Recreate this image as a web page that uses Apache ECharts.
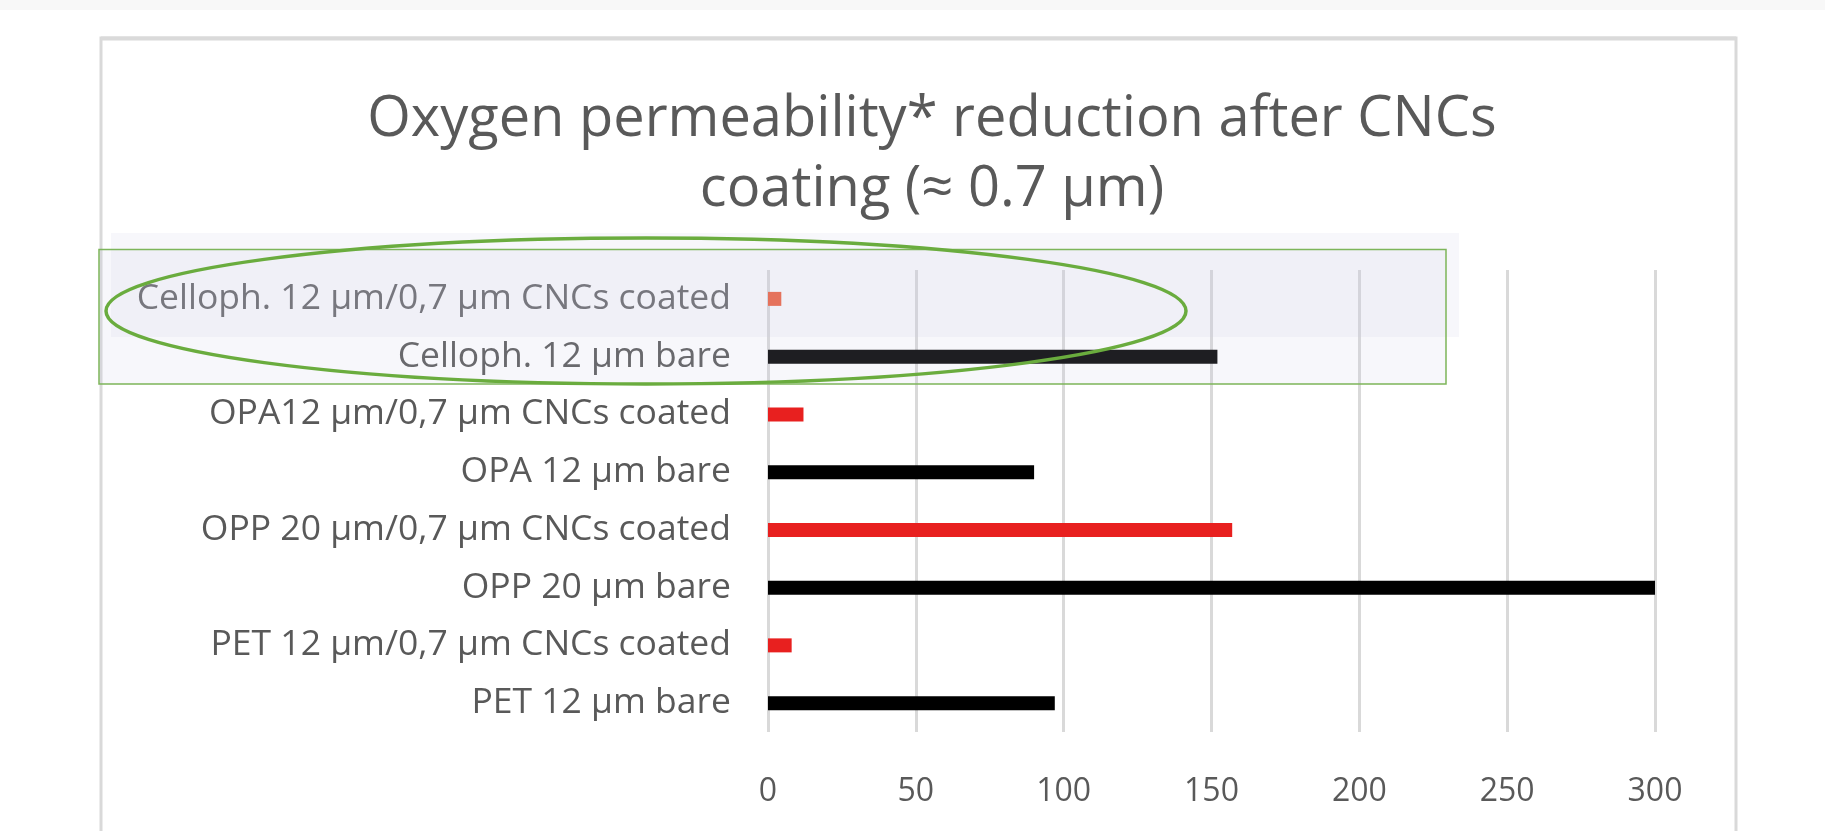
<!DOCTYPE html>
<html>
<head>
<meta charset="utf-8">
<script src="https://cdn.jsdelivr.net/npm/echarts@6/dist/echarts.min.js"></script>
<style>
html,body{margin:0;padding:0;background:#fff;}
#chart{width:1825px;height:831px;}
</style>
</head>
<body>
<div id="chart"></div>
<script>
// ---- data ----
var categories = [
  'Celloph. 12 \u00b5m/0,7 \u00b5m CNCs coated',
  'Celloph. 12 \u00b5m bare',
  'OPA12 \u00b5m/0,7 \u00b5m CNCs coated',
  'OPA 12 \u00b5m bare',
  'OPP 20 \u00b5m/0,7 \u00b5m CNCs coated',
  'OPP 20 \u00b5m bare',
  'PET 12 \u00b5m/0,7 \u00b5m CNCs coated',
  'PET 12 \u00b5m bare'
];
var bareValues   = ['-', 152, '-', 90, '-', 300, '-', 97];
var coatedValues = [4.5, '-', 12, '-', 157, '-', 8, '-'];
var xTicks = [0, 50, 100, 150, 200, 250, 300];
var titleText = 'Oxygen permeability* reduction after CNCs\ncoating (\u2248 0.7 \u00b5m)';

// ---- chart ----
var chart = echarts.init(document.getElementById('chart'), null, {renderer: 'canvas'});
var FONT = 'Open Sans';
var option = {
  backgroundColor: '#ffffff',
  animation: false,
  title: {
    text: titleText,
    left: 927,
    top: 80,
    textAlign: 'center',
    textStyle: {
      fontFamily: FONT,
      fontSize: 56,
      fontWeight: 'normal',
      color: '#595959',
      lineHeight: 70
    }
  },
  grid: {
    left: 768,
    right: 1825 - 1655,
    top: 270,
    height: 462,
    containLabel: false
  },
  xAxis: {
    type: 'value',
    min: xTicks[0],
    max: xTicks[xTicks.length - 1],
    interval: xTicks[1] - xTicks[0],
    axisLine: {show: false},
    axisTick: {show: false},
    axisLabel: {
      margin: 44,
      fontFamily: FONT,
      fontSize: 32,
      color: '#595959'
    },
    splitLine: {show: true, lineStyle: {color: '#D9D9D9', width: 3}}
  },
  yAxis: {
    type: 'category',
    data: categories,
    inverse: true,
    axisLine: {show: false},
    axisTick: {show: false},
    axisLabel: {
      margin: 37,
      fontFamily: FONT,
      fontSize: 35.5,
      color: '#595959'
    }
  },
  series: [
    {
      name: 'bare',
      type: 'bar',
      stack: 'all',
      barWidth: 14,
      data: bareValues,
      itemStyle: {color: '#000000'}
    },
    {
      name: 'coated',
      type: 'bar',
      stack: 'all',
      barWidth: 14,
      data: coatedValues,
      itemStyle: {
        color: function (p) { return p.dataIndex === 0 ? '#F0522A' : '#E8201F'; }
      }
    }
  ],
  graphic: [
    {type: 'rect', z: 100, shape: {x: 0, y: 0, width: 1825, height: 10}, style: {fill: 'rgba(200,200,200,0.12)'}},
    {type: 'rect', z: 100, shape: {x: 101, y: 38, width: 1635, height: 900},
      style: {fill: 'none', stroke: '#D9D9D9', lineWidth: 3}},
    {type: 'line', z: 100, shape: {x1: 101, y1: 38.5, x2: 1736, y2: 38.5},
      style: {stroke: '#DADADA', lineWidth: 4}},
    {type: 'rect', z: 100, shape: {x: 111, y: 233, width: 1348, height: 104},
      style: {fill: 'rgba(200,200,225,0.15)'}},
    {type: 'rect', z: 101, shape: {x: 99, y: 249.5, width: 1347, height: 134.5},
      style: {fill: 'rgba(200,200,225,0.15)', stroke: '#7DB55A', lineWidth: 1.5}},
    {type: 'ellipse', z: 102, shape: {cx: 646, cy: 311, rx: 540, ry: 73},
      style: {fill: 'none', stroke: '#6AAC3E', lineWidth: 3.5}}
  ]
};
chart.setOption(option);
</script>
</body>
</html>
